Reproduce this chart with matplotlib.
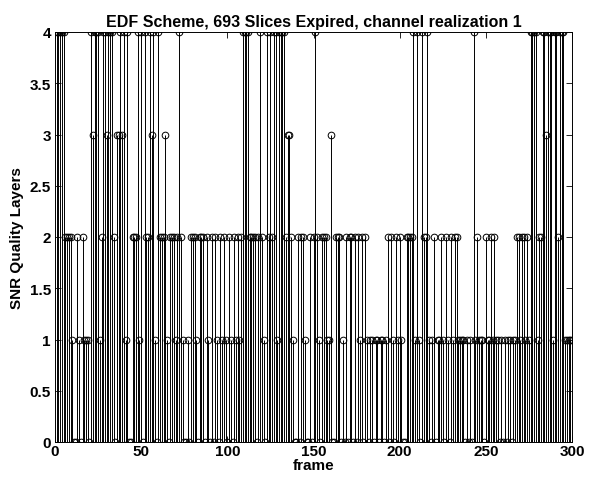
import numpy as np
import matplotlib.pyplot as plt

plt.rcParams["font.family"] = ["Liberation Sans", "DejaVu Sans"]
plt.rcParams["font.weight"] = "bold"

title = "EDF Scheme, 693 Slices Expired, channel realization 1"

# quality layers per frame (frames 1..300)
layers = [
    4, 4, 4, 4, 4, 2, 2, 2, 2, 1,
    0, 0, 2, 1, 0, 2, 1, 1, 1, 0,
    4, 3, 4, 4, 4, 1, 2, 4, 4, 3,
    4, 4, 4, 2, 0, 3, 3, 4, 3, 4,
    1, 4, 0, 0, 2, 2, 2, 4, 1, 4,
    0, 4, 2, 2, 4, 3, 4, 1, 0, 4,
    2, 2, 2, 3, 1, 0, 2, 2, 2, 1,
    2, 4, 2, 1, 0, 0, 1, 0, 2, 2,
    2, 1, 0, 2, 2, 2, 0, 2, 1, 0,
    2, 0, 2, 1, 0, 2, 1, 2, 1, 0,
    2, 1, 0, 2, 1, 2, 1, 2, 4, 4,
    4, 4, 2, 2, 2, 2, 0, 2, 4, 2,
    1, 0, 4, 2, 4, 2, 4, 4, 1, 4,
    4, 4, 4, 2, 3, 3, 2, 1, 0, 0,
    2, 0, 2, 2, 1, 0, 0, 2, 0, 2,
    4, 2, 1, 0, 2, 2, 2, 1, 1, 3,
    0, 0, 2, 2, 2, 0, 1, 0, 2, 0,
    2, 2, 0, 2, 0, 2, 1, 2, 0, 2,
    1, 0, 1, 1, 0, 1, 1, 0, 1, 1,
    0, 1, 2, 0, 2, 1, 0, 2, 1, 2,
    1, 0, 0, 2, 2, 2, 2, 4, 1, 4,
    1, 0, 4, 2, 2, 4, 1, 0, 1, 2,
    0, 1, 1, 2, 1, 0, 2, 1, 0, 2,
    1, 2, 2, 1, 1, 1, 1, 0, 1, 0,
    1, 0, 4, 1, 2, 1, 1, 1, 0, 2,
    1, 1, 2, 1, 2, 1, 1, 0, 1, 0,
    1, 0, 1, 1, 0, 1, 1, 2, 2, 1,
    2, 2, 1, 2, 1, 4, 4, 4, 4, 1,
    2, 2, 4, 4, 3, 4, 4, 4, 1, 4,
    4, 2, 4, 4, 4, 1, 1, 1, 1, 1,
]
frames = np.arange(1, len(layers) + 1)

xticks = [0, 50, 100, 150, 200, 250, 300]
yticks = [0, 0.5, 1, 1.5, 2, 2.5, 3, 3.5, 4]

fig = plt.figure(figsize=(5.89, 4.85), dpi=100)
ax = fig.add_axes([55 / 589, 1 - 443 / 485, (572 - 55) / 589, (443 - 33) / 485])

markers, stems, base = ax.stem(frames, layers, linefmt="k-", markerfmt="ko", basefmt="k-")
stems.set_linewidth(0.7)
markers.set_markerfacecolor("none")
markers.set_markeredgecolor("black")
markers.set_markersize(4.8)
markers.set_markeredgewidth(0.7)
base.set_linewidth(0.7)

ax.set_xlim(0, 300)
ax.set_ylim(0, 4)
ax.set_xticks(xticks)
ax.set_yticks(yticks)
ax.set_yticklabels([f"{t:g}" for t in yticks])
ax.tick_params(direction="in", top=True, right=True, labelsize=11, length=4, width=0.6, pad=3)
ax.tick_params(axis="x", pad=1.5)
for sp in ax.spines.values():
    sp.set_linewidth(0.7)

ax.set_title(title, fontsize=11.5, fontweight="bold", pad=4)
ax.set_xlabel("frame", fontsize=11, fontweight="bold", labelpad=0)
ax.set_ylabel("SNR Quality Layers", fontsize=11, fontweight="bold", labelpad=4)

fig.savefig("out.png", dpi=100)
